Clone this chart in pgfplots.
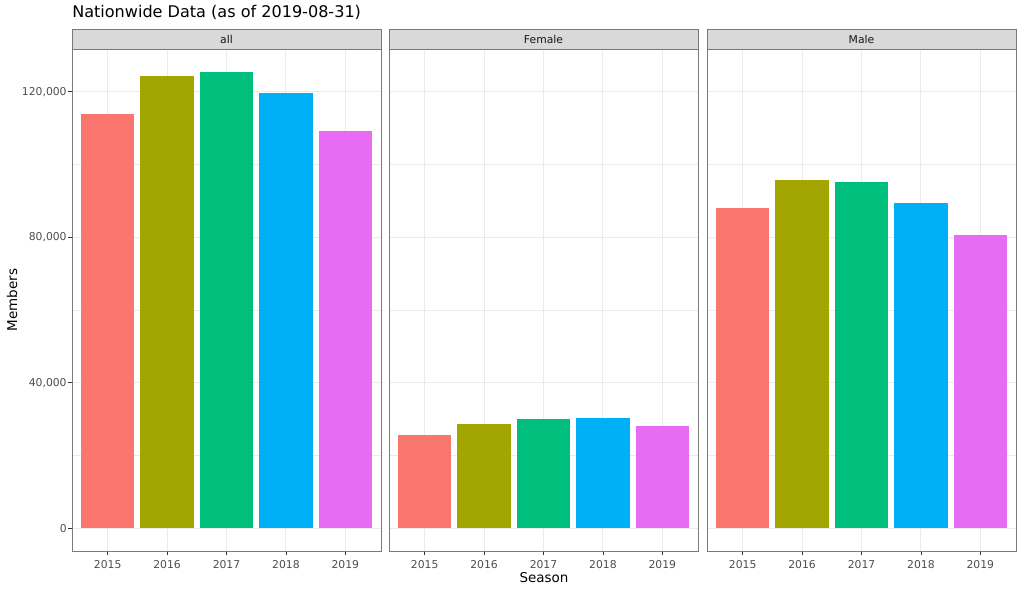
\documentclass[border=0pt]{standalone}
\usepackage{fontspec}
\setmainfont{DejaVu Sans}
\usepackage{pgfplots}
\pgfplotsset{compat=1.18}
\definecolor{c1}{HTML}{F8766D}
\definecolor{c2}{HTML}{A3A500}
\definecolor{c3}{HTML}{00BF7D}
\definecolor{c4}{HTML}{00B0F6}
\definecolor{c5}{HTML}{E76BF3}
\definecolor{gridc}{HTML}{EBEBEB}
\definecolor{border}{HTML}{7A7A7A}
\definecolor{tickline}{HTML}{333333}
\definecolor{tickc}{HTML}{4D4D4D}
\definecolor{stripc}{HTML}{D9D9D9}
\pgfplotsset{
  panel/.style={
    scale only axis, width=231.75pt, height=376.5pt,
    anchor=south west,
    xmin=0.4, xmax=5.6, ymin=-6275, ymax=131775,
    xtick={1,2,3,4,5}, xticklabels={2015,2016,2017,2018,2019},
    ytick={0,40000,80000,120000},
    minor ytick={20000,60000,100000},
    scaled y ticks=false,
    grid=both,
    major grid style={gridc, line width=0.8pt},
    minor grid style={gridc, line width=0.4pt},
    axis line style={border, line width=0.7pt},
    tick style={tickline, line width=0.6pt},
    minor tick length=0pt,
    major tick length=3pt,
    tick align=outside,
    xtick pos=bottom, ytick pos=left,
    /pgf/number format/assume math mode=true,
    ticklabel style={font=\fontsize{8.1}{9}\selectfont, text=tickc},
    xticklabel style={yshift=-0.5pt},
    yticklabel style={xshift=2.5pt},
    ybar, bar width=0.9, bar shift=0pt,
  },
}
\begin{document}
\begin{tikzpicture}
\path[use as bounding box] (0,0) rectangle (768pt,442.5pt);
% panel all
\begin{axis}[panel, at={(54pt,29.25pt)},
  yticklabels={0,{40,000},{80,000},{120,000}}]
\addplot[fill=c1,draw=none] coordinates {(1,113900)};
\addplot[fill=c2,draw=none] coordinates {(2,124400)};
\addplot[fill=c3,draw=none] coordinates {(3,125500)};
\addplot[fill=c4,draw=none] coordinates {(4,119700)};
\addplot[fill=c5,draw=none] coordinates {(5,109300)};
\end{axis}
% panel Female
\begin{axis}[panel, at={(291.75pt,29.25pt)}, yticklabels={}, ytick style={draw=none}]
\addplot[fill=c1,draw=none] coordinates {(1,25600)};
\addplot[fill=c2,draw=none] coordinates {(2,28600)};
\addplot[fill=c3,draw=none] coordinates {(3,30000)};
\addplot[fill=c4,draw=none] coordinates {(4,30300)};
\addplot[fill=c5,draw=none] coordinates {(5,28100)};
\end{axis}
% panel Male
\begin{axis}[panel, at={(530.25pt,29.25pt)}, yticklabels={}, ytick style={draw=none}]
\addplot[fill=c1,draw=none] coordinates {(1,88100)};
\addplot[fill=c2,draw=none] coordinates {(2,95800)};
\addplot[fill=c3,draw=none] coordinates {(3,95200)};
\addplot[fill=c4,draw=none] coordinates {(4,89500)};
\addplot[fill=c5,draw=none] coordinates {(5,80600)};
\end{axis}
% strips
\foreach \x/\lab in {54/all, 291.75/Female, 530.25/Male}{
  \draw[fill=stripc, draw=border, line width=0.7pt] (\x pt,405.75pt) rectangle ++(231.75pt,15pt);
  \node[font=\fontsize{8.1}{9}\selectfont, text=black!90] at (\x pt+115.875pt,413.25pt) {\lab};
}
% title and axis titles
\node[anchor=base west, inner sep=0pt, font=\fontsize{12.05}{14}\selectfont] at (54pt,429pt) {Nationwide Data (as of 2019-08-31)};
\node[anchor=base, font=\fontsize{10.1}{12}\selectfont] at (408pt,6pt) {Season};
\node[rotate=90, font=\fontsize{10.1}{12}\selectfont] at (9pt,217.5pt) {Members};
\end{tikzpicture}
\end{document}
